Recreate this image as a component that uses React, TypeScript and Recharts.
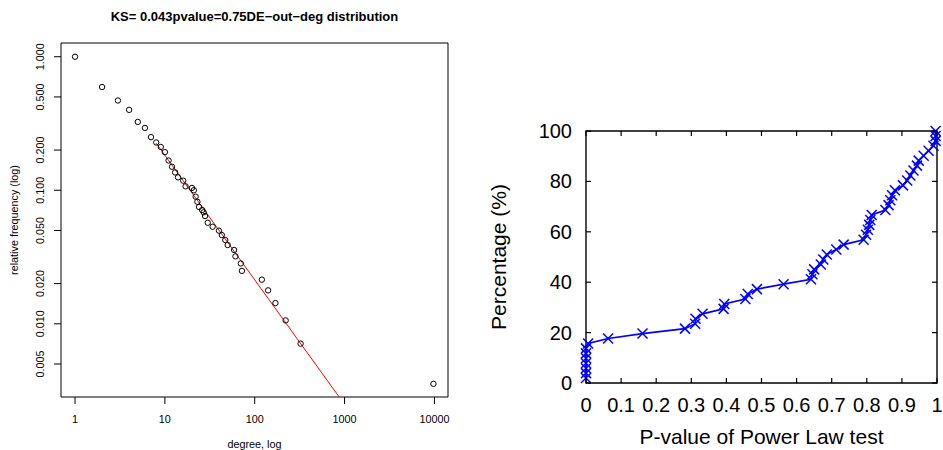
import React from 'react';
import { ScatterChart, Scatter, XAxis, YAxis, ReferenceArea, LineChart, Line } from 'recharts';

// ---------- Left panel data (degree distribution, log-log) ----------
const degree = [1, 2, 3, 4, 5, 6, 7, 8, 9, 10, 11, 12, 13, 14, 16, 17, 20, 21, 22, 23, 24, 26, 27, 28, 30, 34, 40, 43, 47, 50, 59, 61, 70, 72, 120, 141, 170, 221, 324, 9750];
const relFreq = [1.0, 0.593, 0.47, 0.40, 0.325, 0.293, 0.25, 0.228, 0.211, 0.193, 0.167, 0.150, 0.136, 0.125, 0.118, 0.107, 0.104, 0.100, 0.0895, 0.082, 0.075, 0.0711, 0.0684, 0.0641, 0.0571, 0.0533, 0.0498, 0.0462, 0.0424, 0.0389, 0.0357, 0.032, 0.0283, 0.0249, 0.0214, 0.0178, 0.0143, 0.0106, 0.0071, 0.00355];
const fitDegree = [8, 871];
const fitFreq = [0.225, 0.00283];
const degTicks = [1, 10, 100, 1000, 10000];
const degTickLabels = ['1', '10', '100', '1000', '10000'];
const freqTicks = [1, 0.5, 0.2, 0.1, 0.05, 0.02, 0.01, 0.005];
const freqTickLabels = ['1.000', '0.500', '0.200', '0.100', '0.050', '0.020', '0.010', '0.005'];
const degDomain = [0.698, 14160];
const freqDomain = [0.00283, 1.267];
const leftTitle = 'KS= 0.043pvalue=0.75DE\u2212out\u2212deg distribution';
const leftXLabel = 'degree, log';
const leftYLabel = 'relative frequency (log)';

// ---------- Right panel data (CDF of p-values) ----------
const pValue = [0, 0, 0, 0, 0, 0, 0, 0.006, 0.063, 0.161, 0.282, 0.311, 0.312, 0.332, 0.392, 0.394, 0.454, 0.461, 0.487, 0.563, 0.641, 0.645, 0.65, 0.669, 0.676, 0.686, 0.713, 0.734, 0.791, 0.798, 0.803, 0.807, 0.81, 0.814, 0.853, 0.862, 0.867, 0.872, 0.88, 0.903, 0.915, 0.924, 0.933, 0.943, 0.948, 0.962, 0.976, 0.99, 0.996, 0.996, 0.996];
const percentage = [1.96, 3.92, 5.88, 7.84, 9.8, 11.76, 13.73, 15.69, 17.65, 19.61, 21.57, 23.53, 25.49, 27.45, 29.41, 31.37, 33.33, 35.29, 37.25, 39.22, 41.18, 43.14, 45.1, 47.06, 49.02, 50.98, 52.94, 54.9, 56.86, 58.82, 60.78, 62.75, 64.71, 66.67, 68.63, 70.59, 72.55, 74.51, 76.47, 78.43, 80.39, 82.35, 84.31, 86.27, 88.24, 90.2, 92.16, 94.12, 96.08, 98.04, 100];
const pTicks = [0, 0.1, 0.2, 0.3, 0.4, 0.5, 0.6, 0.7, 0.8, 0.9, 1];
const pTickLabels = ['0', '0.1', '0.2', '0.3', '0.4', '0.5', '0.6', '0.7', '0.8', '0.9', '1'];
const pctTicks = [0, 20, 40, 60, 80, 100];
const pctTickLabels = ['0', '20', '40', '60', '80', '100'];
const rightXLabel = 'P-value of Power Law test';
const rightYLabel = 'Percentage (%)';

const FONT = '"Liberation Sans", Arial, Helvetica, sans-serif';

const pointsData = degree.map((d, i) => ({ x: d, y: relFreq[i] }));
const fitData = fitDegree.map((d, i) => ({ x: d, y: fitFreq[i] }));
const cdfData = pValue.map((p, i) => ({ p, pct: percentage[i] }));

// right plot area size
const RPW = 351;
const RPH = 252;

const labelFor = (ticks: number[], labels: string[], v: number) => {
  const i = ticks.findIndex((t) => Math.abs(t - v) < 1e-9 * Math.max(1, Math.abs(t)));
  return i >= 0 ? labels[i] : String(v);
};

const LeftXTick = (props: any) => {
  const { x, y, payload } = props;
  return (
    <g>
      <line x1={x} x2={x} y1={y} y2={y + 7} stroke="#000" strokeWidth={1} />
      <text x={x} y={y + 21.5} textAnchor="middle" dominantBaseline="central" fontSize={10.8} fontFamily={FONT} fill="#000">
        {labelFor(degTicks, degTickLabels, payload.value)}
      </text>
    </g>
  );
};

const LeftYTick = (props: any) => {
  const { x, y, payload } = props;
  const tx = x - 21;
  return (
    <g>
      <line x1={x} x2={x - 7} y1={y} y2={y} stroke="#000" strokeWidth={1} />
      <text x={tx} y={y} transform={`rotate(-90 ${tx} ${y})`} textAnchor="middle" dominantBaseline="central" fontSize={10.8} fontFamily={FONT} fill="#000">
        {labelFor(freqTicks, freqTickLabels, payload.value)}
      </text>
    </g>
  );
};

const RightXTick = (props: any) => {
  const { x, y, payload } = props;
  return (
    <g>
      <line x1={x} x2={x} y1={y} y2={y - 5} stroke="#000" strokeWidth={1.2} />
      <line x1={x} x2={x} y1={y - RPH} y2={y - RPH + 5} stroke="#000" strokeWidth={1.2} />
      <text x={x} y={y + 22} textAnchor="middle" dominantBaseline="central" fontSize={20} fontFamily={FONT} fill="#000">
        {labelFor(pTicks, pTickLabels, payload.value)}
      </text>
    </g>
  );
};

const RightYTick = (props: any) => {
  const { x, y, payload } = props;
  return (
    <g>
      <line x1={x} x2={x + 5} y1={y} y2={y} stroke="#000" strokeWidth={1.2} />
      <line x1={x + RPW} x2={x + RPW - 5} y1={y} y2={y} stroke="#000" strokeWidth={1.2} />
      <text x={x - 14} y={y} textAnchor="end" dominantBaseline="central" fontSize={20} fontFamily={FONT} fill="#000">
        {labelFor(pctTicks, pctTickLabels, payload.value)}
      </text>
    </g>
  );
};

const OpenCircle = (props: any) => {
  const { cx, cy } = props;
  if (cx == null || cy == null) return <g />;
  return <circle cx={cx} cy={cy} r={2.7} fill="none" stroke="#000" strokeWidth={1} />;
};

const XMark = (props: any) => {
  const { cx, cy, index } = props;
  if (cx == null || cy == null) return <g key={index} />;
  const s = 5;
  return (
    <g key={index}>
      <line x1={cx - s} y1={cy - s} x2={cx + s} y2={cy + s} stroke="#0000ff" strokeWidth={1.5} />
      <line x1={cx - s} y1={cy + s} x2={cx + s} y2={cy - s} stroke="#0000ff" strokeWidth={1.5} />
    </g>
  );
};

export default function App() {
  return (
    <div style={{ position: 'absolute', left: 0, top: 0, width: 943, height: 450, background: '#fff', overflow: 'hidden' }}>
      <div style={{ position: 'absolute', left: 0, top: 0 }}>
        <ScatterChart width={480} height={450} margin={{ top: 43, right: 32, bottom: 0, left: 0 }}>
          <XAxis
            type="number"
            dataKey="x"
            scale="log"
            domain={degDomain}
            allowDataOverflow
            ticks={degTicks}
            interval={0}
            height={53}
            tickSize={0}
            tickMargin={0}
            tickLine={false}
            axisLine={false}
            tick={<LeftXTick />}
          />
          <YAxis
            type="number"
            dataKey="y"
            scale="log"
            domain={freqDomain}
            allowDataOverflow
            ticks={freqTicks}
            interval={0}
            width={61}
            tickSize={0}
            tickMargin={0}
            tickLine={false}
            axisLine={false}
            tick={<LeftYTick />}
          />
          <ReferenceArea x1={degDomain[0]} x2={degDomain[1]} y1={freqDomain[0]} y2={freqDomain[1]} fill="none" fillOpacity={0} stroke="#000" strokeWidth={1} ifOverflow="visible" />
          <Scatter data={fitData} line={{ stroke: '#ff0000', strokeWidth: 1 }} lineType="joint" shape={() => <g />} isAnimationActive={false} />
          <Scatter data={pointsData} shape={<OpenCircle />} isAnimationActive={false} />
        </ScatterChart>
      </div>
      <div style={{ position: 'absolute', left: 480, top: 0 }}>
        <LineChart width={463} height={450} data={cdfData} margin={{ top: 131, right: 6, bottom: 0, left: 0 }}>
          <XAxis
            type="number"
            dataKey="p"
            domain={[0, 1]}
            ticks={pTicks}
            interval={0}
            height={67}
            tickSize={0}
            tickMargin={0}
            tickLine={false}
            axisLine={false}
            tick={<RightXTick />}
          />
          <YAxis
            type="number"
            domain={[0, 100]}
            ticks={pctTicks}
            interval={0}
            width={106}
            tickSize={0}
            tickMargin={0}
            tickLine={false}
            axisLine={false}
            tick={<RightYTick />}
          />
          <ReferenceArea x1={0} x2={1} y1={0} y2={100} fill="none" fillOpacity={0} stroke="#000" strokeWidth={1.4} ifOverflow="visible" />
          <Line type="linear" dataKey="pct" stroke="#0000ff" strokeWidth={1.7} dot={(p: any) => <XMark key={p.index} {...p} />} activeDot={false} isAnimationActive={false} />
        </LineChart>
      </div>
      <svg width={943} height={450} style={{ position: 'absolute', left: 0, top: 0, pointerEvents: 'none' }}>
        <text x={254.5} y={16} textAnchor="middle" dominantBaseline="central" fontSize={13} fontWeight="bold" fontFamily={FONT} fill="#000">{leftTitle}</text>
        <text x={254.5} y={444} textAnchor="middle" dominantBaseline="central" fontSize={10.8} fontFamily={FONT} fill="#000">{leftXLabel}</text>
        <text x={14} y={220} transform="rotate(-90 14 220)" textAnchor="middle" dominantBaseline="central" fontSize={10.8} fontFamily={FONT} fill="#000">{leftYLabel}</text>
        <text x={761.5} y={436} textAnchor="middle" dominantBaseline="central" fontSize={21} fontFamily={FONT} fill="#000">{rightXLabel}</text>
        <text x={498} y={257} transform="rotate(-90 498 257)" textAnchor="middle" dominantBaseline="central" fontSize={21} fontFamily={FONT} fill="#000">{rightYLabel}</text>
      </svg>
    </div>
  );
}
